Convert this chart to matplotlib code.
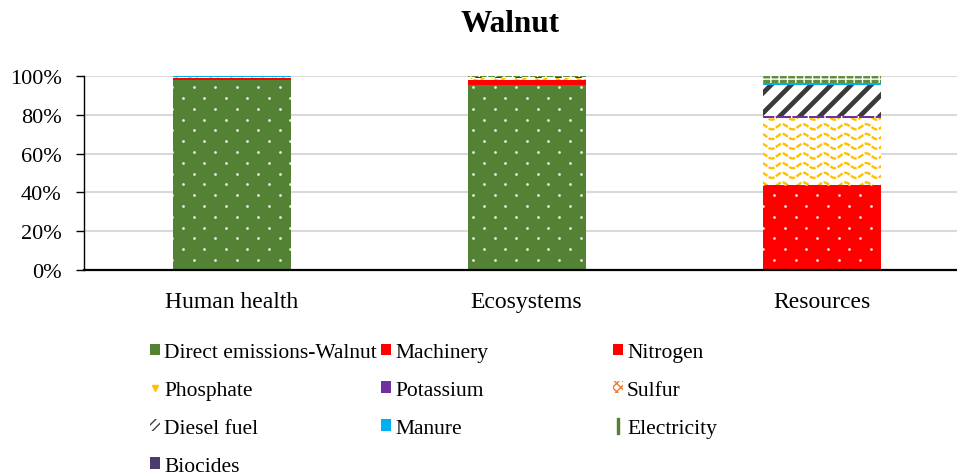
import numpy as np
import matplotlib
matplotlib.use('Agg')
import matplotlib.pyplot as plt
from matplotlib.lines import Line2D
from matplotlib.patches import Patch
from matplotlib.transforms import IdentityTransform
from matplotlib.ticker import FuncFormatter

# ---------------- data ----------------
categories = ['Human health', 'Ecosystems', 'Resources']
direct = [97.9, 95.4, 0.0]
machinery = [1.0, 2.2, 6.0]
nitrogen = [0.0, 0.1, 37.7]
phosphate = [0.5, 1.2, 34.7]
potassium = [0.1, 0.1, 0.8]
sulfur = [0.0, 0.1, 0.2]
diesel = [0.2, 0.3, 15.8]
manure = [0.1, 0.3, 1.2]
electricity = [0.2, 0.3, 3.4]
biocides = [0.0, 0.0, 0.2]
yticks = [0, 20, 40, 60, 80, 100]
title = 'Walnut'

series = [
    ('Direct emissions-Walnut', direct),
    ('Machinery', machinery),
    ('Nitrogen', nitrogen),
    ('Phosphate', phosphate),
    ('Potassium', potassium),
    ('Sulfur', sulfur),
    ('Diesel fuel', diesel),
    ('Manure', manure),
    ('Electricity', electricity),
    ('Biocides', biocides),
]

styles = {
    'Direct emissions-Walnut': dict(color='#548235', pattern='dots'),
    'Machinery': dict(color='#FF0000', pattern='dots'),
    'Nitrogen': dict(color='#FF0000', pattern='dots'),
    'Phosphate': dict(color='white', pattern='waves'),
    'Potassium': dict(color='#7030A0', hatch='|', hcolor='white'),
    'Sulfur': dict(color='white', hatch='xxxx', hcolor='#ED7D31'),
    'Diesel fuel': dict(color='white', pattern='stripes'),
    'Manure': dict(color='#00B0F0'),
    'Electricity': dict(color='#5E8F3C', hatch='++', hcolor='white'),
    'Biocides': dict(color='#4B3B6E'),
}

plt.rcParams['font.family'] = ['Liberation Serif', 'DejaVu Serif']
plt.rcParams['hatch.linewidth'] = 1.0

W, H = 957, 477
fig = plt.figure(figsize=(W / 100, H / 100), dpi=100)
ax = fig.add_axes([84 / W, (H - 271) / H, 885 / W, 194 / H])
xpos = np.arange(len(categories))
ax.set_xlim(-0.5, len(categories) - 0.5)
ax.set_ylim(0, 100)

ident = IdentityTransform()


def add_pattern(rect, kind):
    bb = rect.get_window_extent()
    if bb.height <= 0:
        return
    arts = []
    if kind == 'dots':
        dx, dy = 21.5, 10.8
        j0 = int(np.floor(bb.y0 / dy)) - 1
        j1 = int(np.ceil(bb.y1 / dy)) + 1
        px, py = [], []
        for j in range(j0, j1 + 1):
            off = (dx / 2) if j % 2 else 0.0
            xs = np.arange(np.floor(bb.x0 / dx) * dx - dx, bb.x1 + dx, dx) + off
            px.extend(xs)
            py.extend([j * dy] * len(xs))
        arts.append(Line2D(px, py, linestyle='none', marker='o', markersize=2.0,
                           markerfacecolor='white', markeredgewidth=0, alpha=0.85,
                           transform=ident))
    elif kind == 'waves':
        dy, per, amp = 9.7, 21.0, 2.6
        j0 = int(np.floor(bb.y0 / dy)) - 1
        j1 = int(np.ceil(bb.y1 / dy)) + 1
        xs = np.linspace(bb.x0 - per, bb.x1 + per, 400)
        for j in range(j0, j1 + 1):
            ys = j * dy + amp * np.sin(2 * np.pi * xs / per)
            arts.append(Line2D(xs, ys, color='#FFC000', lw=1.7, transform=ident,
                               dashes=(2.6, 0.7)))
    elif kind == 'stripes':
        per = 20.0
        c0 = np.floor((bb.y0 - bb.x1) / per) * per - per
        c1 = bb.y1 - bb.x0 + per
        for c in np.arange(c0, c1, per):
            xs = np.array([bb.x0 - 5, bb.x1 + 5])
            arts.append(Line2D(xs, xs + c, color='#3A3A3A', lw=3.4,
                               transform=ident, solid_capstyle='butt'))
    for a in arts:
        a.set_zorder(2.5)
        ax.add_artist(a)
        a.set_clip_on(True)
        a.set_clip_path(rect)


bottom = np.zeros(len(categories))
for name, vals in series:
    st = styles[name]
    vals = np.array(vals, dtype=float)
    kw = dict(color=st['color'], linewidth=0, zorder=2)
    if 'hatch' in st:
        kw.update(hatch=st['hatch'], edgecolor=st['hcolor'])
    bars = ax.bar(xpos, vals, 0.4, bottom=bottom, **kw)
    if 'pattern' in st:
        for r in bars.patches:
            add_pattern(r, st['pattern'])
    bottom += vals

ax.set_xlim(-0.5, len(categories) - 0.5)
ax.set_ylim(0, 100)
ax.set_xticks(xpos)
ax.set_xticklabels(categories)
ax.set_yticks(yticks)
ax.yaxis.set_major_formatter(FuncFormatter(lambda v, p: f'{v:.0f}%'))
ax.tick_params(axis='y', direction='out', length=6, width=1, pad=10,
               labelsize=16, colors='black')
ax.tick_params(axis='x', length=0, pad=15, labelsize=17)
ax.yaxis.grid(True, color='#D9D9D9', lw=1.5)
ax.set_axisbelow(True)
for s in ['top', 'right']:
    ax.spines[s].set_visible(False)
ax.spines['bottom'].set_linewidth(1.6)
ax.spines['bottom'].set_color('black')
ax.spines['left'].set_linewidth(1.0)
ax.spines['left'].set_color('black')

fig.text(510 / W, 1 - 25 / H, title, ha='center', va='center',
         fontsize=22.5, fontweight='bold')

# ---------------- legend ----------------
def handle(name):
    st = styles[name]
    if name == 'Phosphate':
        return Line2D([0], [0], linestyle='none', marker='v', markersize=5,
                      color='#FFC000')
    if name == 'Electricity':
        return Line2D([0], [0], linestyle='none', marker=r'$\mathrm{I}$',
                      markersize=11, color='#548235')
    if name == 'Diesel fuel':
        return Patch(facecolor='white', edgecolor='#404040', hatch='////', lw=0)
    if 'hatch' in st:
        return Patch(facecolor=st['color'], edgecolor=st['hcolor'],
                     hatch=st['hatch'], lw=0)
    return Patch(facecolor=st['color'], lw=0)


columns = [
    ['Direct emissions-Walnut', 'Phosphate', 'Diesel fuel', 'Biocides'],
    ['Machinery', 'Potassium', 'Manure'],
    ['Nitrogen', 'Sulfur', 'Electricity'],
]
col_x = [150, 381, 613]
for cx, names in zip(col_x, columns):
    fig.legend(handles=[handle(n) for n in names], labels=names,
               loc='upper left', bbox_to_anchor=(cx / W, 1 - 344 / H),
               frameon=False, borderpad=0, borderaxespad=0,
               handlelength=0.45, handleheight=0.45, handletextpad=0.2,
               labelspacing=0.88, fontsize=15.5)

fig.savefig('out.png', dpi=100)
